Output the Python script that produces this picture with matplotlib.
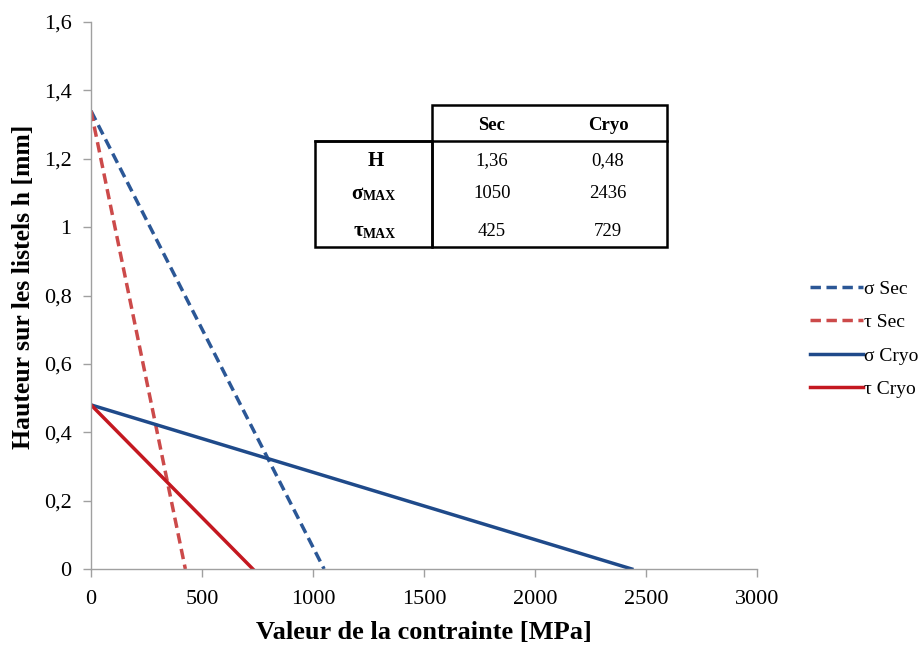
import matplotlib
matplotlib.use("Agg")
import matplotlib.pyplot as plt
from matplotlib.patches import Rectangle
from matplotlib.lines import Line2D

plt.rcParams['font.family'] = ['Liberation Serif', 'DejaVu Serif']

# Data
series_names = ["σ Sec", "τ Sec", "σ Cryo", "τ Cryo"]
sig_sec_x = [0, 1050]
sig_sec_y = [1.34, 0]
tau_sec_x = [0, 425]
tau_sec_y = [1.34, 0]
sig_cryo_x = [0, 2436]
sig_cryo_y = [0.48, 0]
tau_cryo_x = [0, 729]
tau_cryo_y = [0.48, 0]

table_cols = ["Sec", "Cryo"]
table_rows = ["H", "σ", "τ"]
table_vals = [["1,36", "0,48"], ["1050", "2436"], ["425", "729"]]

xticks = [0, 500, 1000, 1500, 2000, 2500, 3000]
yticks = [0, 0.2, 0.4, 0.6, 0.8, 1.0, 1.2, 1.4, 1.6]
ytick_labels = ["0", "0,2", "0,4", "0,6", "0,8", "1", "1,2", "1,4", "1,6"]

W, H = 919, 646
fig = plt.figure(figsize=(W/100, H/100), dpi=100)
ax = fig.add_axes([91/W, 1-569/H, (757-91)/W, (569-22)/H])

c_sig_sec = "#2B5796"
c_tau_sec = "#CC4A4A"
c_sig_cryo = "#1F4A8A"
c_tau_cryo = "#C41820"

l1, = ax.plot(sig_sec_x, sig_sec_y, color=c_sig_sec, lw=2.5, ls=(0, (3, 1.6)))
l2, = ax.plot(tau_sec_x, tau_sec_y, color=c_tau_sec, lw=2.5, ls=(0, (3, 1.6)))
l3, = ax.plot(sig_cryo_x, sig_cryo_y, color=c_sig_cryo, lw=2.5)
l4, = ax.plot(tau_cryo_x, tau_cryo_y, color=c_tau_cryo, lw=2.5)

ax.set_xlim(0, 3000)
ax.set_ylim(0, 1.6)
ax.set_xticks(xticks)
ax.set_xticklabels([str(v) for v in xticks])
ax.set_yticks(yticks)
ax.set_yticklabels(ytick_labels)
ax.tick_params(axis='both', labelsize=16, color="#A0A0A0", length=6, width=1)
ax.tick_params(axis='x', pad=9)
ax.tick_params(axis='y', pad=8)
for s in ["top", "right"]:
    ax.spines[s].set_visible(False)
for s in ["left", "bottom"]:
    ax.spines[s].set_color("#A0A0A0")
    ax.spines[s].set_linewidth(1)

ax.set_xlabel("Valeur de la contrainte [MPa]", fontsize=19, fontweight='bold', labelpad=9)
ax.set_ylabel("Hauteur sur les listels h [mm]", fontsize=18.5, fontweight='bold')
ax.yaxis.set_label_coords(-0.084, 0.515)

leg = fig.legend([l1, l2, l3, l4], series_names, loc='upper left',
                 bbox_to_anchor=(810/W, 1-280/H), frameon=False, fontsize=14,
                 handlelength=2.73, handletextpad=0.05, labelspacing=0.82,
                 borderpad=0, borderaxespad=0)

# Table (figure pixel coordinates)
def fx(px):
    return px / W

def fy(py):
    return 1 - py / H

lw = 1.8
fig.add_artist(Rectangle((fx(432), fy(247)), fx(667) - fx(432), fy(105) - fy(247),
                         fill=False, lw=lw, ec="black", transform=fig.transFigure))
fig.add_artist(Rectangle((fx(315), fy(247)), fx(432) - fx(315), fy(141) - fy(247),
                         fill=False, lw=lw, ec="black", transform=fig.transFigure))
fig.add_artist(Line2D([fx(315), fx(667)], [fy(141), fy(141)], lw=lw, color="black",
                      transform=fig.transFigure))

col_x = [492, 608]
for cx, name in zip(col_x, table_cols):
    fig.text(fx(cx), fy(125), name, ha='center', va='center', fontsize=13.5, fontweight='bold')
row_y = [161, 194, 231]
fig.text(fx(376), fy(row_y[0]), table_rows[0], ha='center', va='center', fontsize=15, fontweight='bold')
for ry, sym in zip(row_y[1:], table_rows[1:]):
    fig.text(fx(363), fy(ry), sym, ha='right', va='center', fontsize=15, fontweight='bold')
    fig.text(fx(363), fy(ry + 3), "MAX", ha='left', va='center', fontsize=10, fontweight='bold')
for ry, vals in zip(row_y, table_vals):
    for cx, v in zip(col_x, vals):
        fig.text(fx(cx), fy(ry), v, ha='center', va='center', fontsize=13.5)

fig.savefig("out.png", dpi=100)
